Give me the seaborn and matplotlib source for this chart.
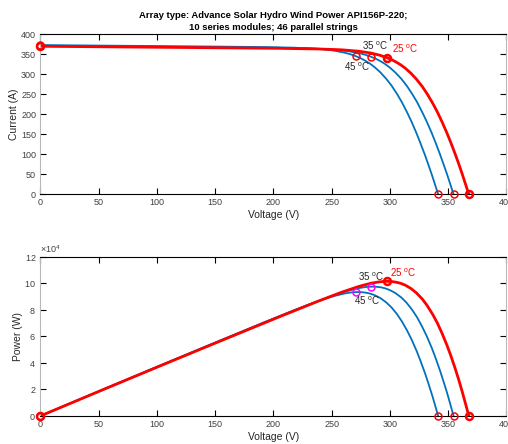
import matplotlib
matplotlib.use("Agg")
import matplotlib.pyplot as plt
import seaborn as sns
import pandas as pd

# I-V and P-V characteristics of the PV array at three cell temperatures
temps = ["25", "35", "45"]

v_25 = [0.0, 52.9, 102.9, 153.0, 203.1, 238.2, 258.3, 273.5, 283.8, 291.1, 297.4,
        301.3, 305.1, 309.1, 313.1, 317.8, 322.7, 327.9, 331.9, 336.9, 340.7,
        344.6, 348.8, 352.3, 356.0, 358.9, 361.9, 364.8, 367.7]
i_25 = [369.4, 368.1, 366.9, 365.6, 364.3, 362.7, 360.6, 357.0, 352.4, 347.2, 341.1,
        336.2, 330.4, 323.4, 314.8, 302.7, 287.4, 268.3, 250.8, 226.2, 205.4,
        181.4, 153.7, 128.6, 100.4, 77.1, 51.7, 25.8, 0.0]
p_25 = [0, 19473, 37754, 55937, 73989, 86395, 93143, 97640, 100011, 101070, 101443,
        101297, 100805, 99963, 98564, 96182, 92744, 87969, 83240, 76220, 69980,
        62510, 53611, 45306, 35742, 27671, 18710, 9426, 0]

v_35 = [0.0, 52.8, 102.9, 152.9, 203.0, 228.1, 248.3, 263.5, 273.8, 279.1, 284.1,
        288.0, 292.1, 296.0, 300.0, 304.7, 309.7, 314.2, 318.9, 323.2, 327.6,
        331.6, 335.8, 339.3, 343.0, 345.9, 349.0, 351.7, 354.6]
i_35 = [370.9, 369.6, 368.4, 367.1, 365.7, 364.3, 361.9, 357.6, 352.1, 348.0, 342.9,
        338.1, 331.9, 324.8, 316.1, 303.8, 288.4, 271.8, 251.4, 230.5, 205.6,
        181.3, 153.4, 127.9, 99.5, 75.8, 50.2, 26.1, 0.0]
p_35 = [0, 19515, 37908, 56130, 74237, 83097, 89860, 94228, 96405, 97127, 97418,
        97361, 96948, 96135, 94830, 92568, 89318, 85384, 80172, 74498, 67355,
        60119, 51512, 43396, 34129, 26219, 17520, 9169, 0]

v_45 = [0.0, 52.7, 102.8, 152.8, 192.9, 218.0, 238.2, 250.4, 260.7, 266.0, 271.3,
        275.1, 279.0, 282.9, 286.9, 291.7, 296.6, 301.2, 305.9, 310.2, 314.7,
        318.7, 322.9, 326.4, 330.2, 333.1, 336.2, 338.5, 341.4]
i_45 = [372.4, 371.1, 369.9, 368.6, 367.4, 365.9, 363.0, 359.3, 353.7, 349.6, 344.0,
        339.2, 333.2, 326.0, 317.2, 304.6, 289.0, 272.0, 251.4, 230.0, 204.7,
        180.1, 151.7, 125.9, 96.9, 72.9, 46.7, 26.1, 0.0]
p_45 = [0, 19557, 38026, 56322, 70872, 79766, 86467, 89969, 92210, 92994, 93327,
        93300, 92963, 92214, 91005, 88861, 85717, 81938, 76903, 71346, 64419,
        57385, 48984, 41077, 31996, 24270, 15701, 8835, 0]

# index of the maximum power point in each series
mpp_idx = [10, 10, 10]

x_ticks = [0, 50, 100, 150, 200, 250, 300, 350, 400]
i_ticks = [0, 50, 100, 150, 200, 250, 300, 350, 400]
p_ticks = [0, 20000, 40000, 60000, 80000, 100000, 120000]

title_lines = ["Array type: Advance Solar Hydro Wind Power API156P-220;",
               "10 series modules; 46 parallel strings"]

sns.set_style("white")
plt.rcParams["font.family"] = ["Liberation Sans", "DejaVu Sans"]
plt.rcParams["mathtext.fontset"] = "custom"
plt.rcParams["mathtext.rm"] = "Liberation Sans"
plt.rcParams["mathtext.it"] = "Liberation Sans:italic"
plt.rcParams["mathtext.default"] = "regular"

RED = (1.0, 0.0, 0.0)
BLUE = (0.0, 0.447, 0.741)
MAG = (1.0, 0.0, 1.0)
TXT = "#262626"
TICK = "#404040"

frames = []
for t, v, i, p in [("25", v_25, i_25, p_25), ("35", v_35, i_35, p_35), ("45", v_45, i_45, p_45)]:
    frames.append(pd.DataFrame({"V": v, "I": i, "P": p, "T": t}))
df = pd.concat(frames, ignore_index=True)

fig = plt.figure(figsize=(5.08, 4.44), dpi=100)
ax1 = fig.add_axes([0.0793, 0.5624, 0.9177, 0.361])
ax2 = fig.add_axes([0.0793, 0.0631, 0.9177, 0.3588])


def style_axes(ax):
    ax.set_xlim(0, 400)
    ax.set_xticks(x_ticks)
    for side in ["left", "right"]:
        ax.spines[side].set_color("#b8b8b8")
        ax.spines[side].set_linewidth(0.8)
    for side in ["top", "bottom"]:
        ax.spines[side].set_color("black")
        ax.spines[side].set_linewidth(0.8)
    ax.tick_params(direction="in", length=4, width=0.8, colors="black",
                   labelcolor=TICK, labelsize=6.5, top=True, right=True,
                   bottom=True, left=True, pad=3)
    ax.set_xlabel("Voltage (V)", fontsize=7.5, color=TXT, labelpad=2)


for ax, col in [(ax1, "I"), (ax2, "P")]:
    sub = df[df["T"] != "25"]
    sns.lineplot(data=sub, x="V", y=col, units="T", estimator=None, sort=False,
                 color=BLUE, linewidth=1.3, ax=ax, legend=False)
    sns.lineplot(data=df[df["T"] == "25"], x="V", y=col, sort=False,
                 color=RED, linewidth=2.0, ax=ax, legend=False)
    style_axes(ax)

ax1.set_ylim(0, 400)
ax1.set_yticks(i_ticks)
ax1.set_ylabel("Current (A)", fontsize=7.5, color=TXT, labelpad=1.5)

ax2.set_ylim(0, 120000)
ax2.set_yticks(p_ticks)
ax2.ticklabel_format(style="sci", axis="y", scilimits=(4, 4), useMathText=True)
ax2.yaxis.get_offset_text().set_fontsize(6.5)
ax2.yaxis.get_offset_text().set_color(TICK)
ax2.set_ylabel("Power (W)", fontsize=7.5, color=TXT, labelpad=1.0)

# key points: short circuit, maximum power, open circuit
series = {"25": (v_25, i_25, p_25), "35": (v_35, i_35, p_35), "45": (v_45, i_45, p_45)}
for k, t in enumerate(temps):
    v, i, p = series[t]
    m = mpp_idx[k]
    mew = 1.8 if t == "25" else 1.1
    for ax, y, mpp_col in [(ax1, i, RED), (ax2, p, RED if t == "25" else MAG)]:
        ax.plot([v[0], v[-1]], [y[0], y[-1]], "o", ms=5, mfc="none", mec=RED,
                mew=mew, clip_on=False, zorder=5)
        ax.plot([v[m]], [y[m]], "o", ms=5, mfc="none", mec=mpp_col,
                mew=mew, clip_on=False, zorder=5)

# temperature labels
ax1.text(276, 371, "35 $^o$C", fontsize=7, color=TXT, va="center", ha="left")
ax1.text(302, 364, "25 $^o$C", fontsize=7, color=RED, va="center", ha="left")
ax1.text(261, 318, "45 $^o$C", fontsize=7, color=TXT, va="center", ha="left")
ax2.text(273, 104500, "35 $^o$C", fontsize=7, color=TXT, va="center", ha="left")
ax2.text(300, 107500, "25 $^o$C", fontsize=7, color=RED, va="center", ha="left")
ax2.text(269, 86500, "45 $^o$C", fontsize=7, color=TXT, va="center", ha="left")

ax1.set_title("\n".join(title_lines), fontsize=6.8, fontweight="bold", color="black",
              pad=3, linespacing=1.45)

fig.savefig("out.png", dpi=100)
